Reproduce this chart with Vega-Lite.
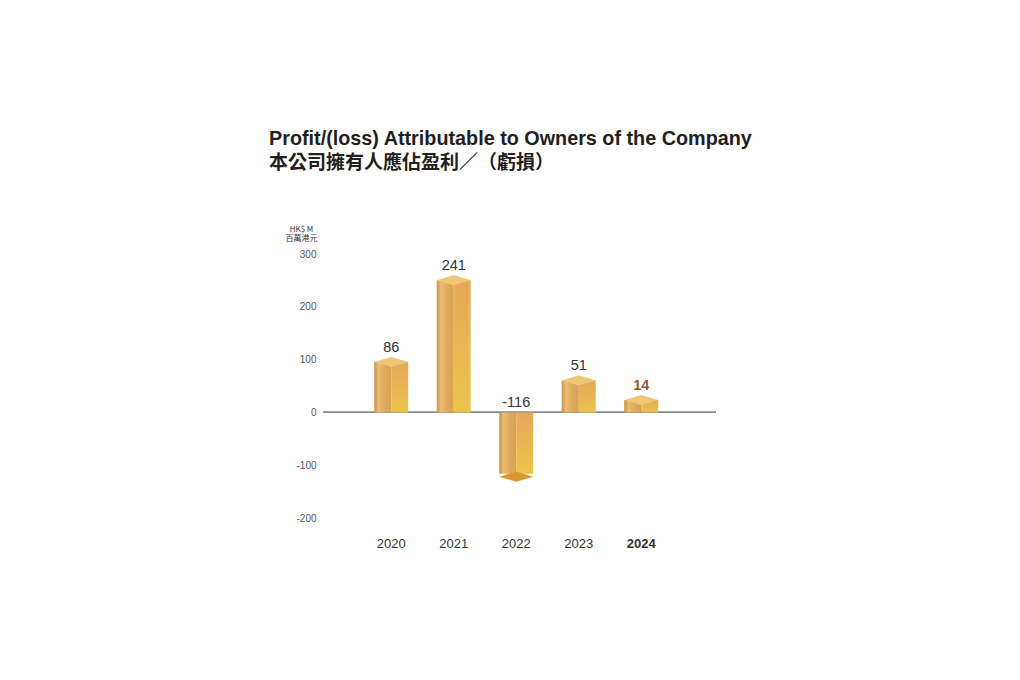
{
  "$schema": "https://vega.github.io/schema/vega-lite/v6.json",
  "width": 393,
  "height": 264,
  "autosize": "none",
  "padding": {"left": 323, "top": 254, "right": 304, "bottom": 162},
  "background": "white",
  "config": {"view": {"stroke": null}, "font": "Liberation Sans"},
  "title": {
    "text": "Profit/(loss) Attributable to Owners of the Company",
    "subtitle": "本公司擁有人應佔盈利／（虧損）",
    "anchor": "start",
    "frame": "group",
    "dx": -54,
    "offset": 52,
    "font": "Liberation Sans",
    "fontSize": 19.8,
    "fontWeight": "bold",
    "color": "#231f20",
    "subtitleFont": "Noto Sans CJK TC",
    "subtitleFontSize": 19,
    "subtitleFontWeight": "bold",
    "subtitleColor": "#231f20",
    "subtitlePadding": 5
  },
  "data": {
    "values": [
      {"year": "2020", "value": 86},
      {"year": "2021", "value": 241},
      {"year": "2022", "value": -116},
      {"year": "2023", "value": 51},
      {"year": "2024", "value": 14}
    ]
  },
  "encoding": {
    "x": {
      "field": "year",
      "type": "nominal",
      "sort": ["2020", "2021", "2022", "2023", "2024"],
      "scale": {"domain": ["2020", "2021", "2022", "2023", "2024"], "paddingInner": 0.456, "paddingOuter": 0.872, "align": 0.47},
      "axis": {
        "title": null,
        "domain": false,
        "ticks": false,
        "labelAngle": 0,
        "labelFontSize": 13,
        "labelColor": "#333333",
        "labelPadding": 19,
        "labelFontWeight": {"condition": {"test": "datum.value === '2024'", "value": "bold"}, "value": "normal"}
      }
    }
  },
  "layer": [
    {
      "mark": {"type": "rule", "color": "#8a8a8a", "strokeWidth": 1.2},
      "encoding": {
        "y": {
          "datum": 0,
          "type": "quantitative",
          "scale": {"domain": [-200, 300], "nice": false, "zero": false},
          "axis": {
            "values": [-200, -100, 0, 100, 200, 300],
            "labelExpr": "replace(datum.label, '−', '-')",
            "grid": false,
            "domain": false,
            "ticks": false,
            "labelFontSize": 10,
            "labelColor": "#555555",
            "labelPadding": 7,
            "title": ["HK$ M", "百萬港元"],
            "titleFont": "Noto Sans CJK TC",
            "titleFontSize": 8,
            "titleFontWeight": "normal",
            "titleColor": "#333333",
            "titleAngle": 0,
            "titleAlign": "center",
            "titleBaseline": "alphabetic",
            "titleX": -22,
            "titleY": -23,
            "titleLineHeight": 9.5
          }
        },
        "x": null
      }
    },
    {
      "transform": [{"filter": "datum.value > 0"}],
      "mark": {
        "type": "bar", "width": 17, "xOffset": -8.5, "yOffset": -5,
        "fill": {"gradient": "linear", "x1": 0, "x2": 1, "y1": 0, "y2": 0,
          "stops": [{"offset": 0, "color": "#c8924a"}, {"offset": 0.25, "color": "#ebbd72"}, {"offset": 0.6, "color": "#e0ab5e"}, {"offset": 1, "color": "#d8a052"}]}
      },
      "encoding": {"y": {"field": "value", "type": "quantitative"}, "y2": {"datum": 0}}
    },
    {
      "transform": [{"filter": "datum.value > 0"}],
      "mark": {
        "type": "bar", "width": 17, "xOffset": 8.5, "yOffset": -5,
        "fill": {"gradient": "linear", "x1": 0, "x2": 0, "y1": 0, "y2": 1,
          "stops": [{"offset": 0, "color": "#e6a85a"}, {"offset": 1, "color": "#ebc44c"}]}
      },
      "encoding": {"y": {"field": "value", "type": "quantitative"}, "y2": {"datum": 0}}
    },
    {
      "transform": [{"filter": "datum.value > 0"}],
      "mark": {"type": "point", "filled": true, "opacity": 1, "size": 1156, "yOffset": -5,
        "shape": "M-1,0L0,-0.3L1,0L0,0.3Z", "color": "#f1c677"},
      "encoding": {"y": {"field": "value", "type": "quantitative"}}
    },
    {
      "transform": [{"filter": "datum.value < 0"}],
      "mark": {
        "type": "bar", "width": 17, "xOffset": -8.5,
        "fill": {"gradient": "linear", "x1": 0, "x2": 1, "y1": 0, "y2": 0,
          "stops": [{"offset": 0, "color": "#c8924a"}, {"offset": 0.25, "color": "#ebbd72"}, {"offset": 0.6, "color": "#e0ab5e"}, {"offset": 1, "color": "#d8a052"}]}
      },
      "encoding": {"y": {"field": "value", "type": "quantitative"}, "y2": {"datum": 0}}
    },
    {
      "transform": [{"filter": "datum.value < 0"}],
      "mark": {
        "type": "bar", "width": 17, "xOffset": 8.5,
        "fill": {"gradient": "linear", "x1": 0, "x2": 0, "y1": 0, "y2": 1,
          "stops": [{"offset": 0, "color": "#e6a85a"}, {"offset": 1, "color": "#ebc44c"}]}
      },
      "encoding": {"y": {"field": "value", "type": "quantitative"}, "y2": {"datum": 0}}
    },
    {
      "transform": [{"filter": "datum.value < 0"}],
      "mark": {"type": "point", "filled": true, "opacity": 1, "size": 1156, "yOffset": 3,
        "shape": "M-1,0L0,-0.3L1,0L0,0.3Z", "color": "#d8982f"},
      "encoding": {"y": {"field": "value", "type": "quantitative"}}
    },
    {
      "transform": [{"filter": "datum.value > 0 && datum.year !== '2024'"}],
      "mark": {"type": "text", "baseline": "alphabetic", "dy": -15, "fontSize": 14.5, "color": "#333333"},
      "encoding": {
        "y": {"field": "value", "type": "quantitative"},
        "text": {"field": "value", "type": "nominal"}
      }
    },
    {
      "transform": [{"filter": "datum.year === '2024'"}],
      "mark": {"type": "text", "baseline": "alphabetic", "dy": -15, "fontSize": 14.5, "fontWeight": "bold", "color": "#8b5a2b"},
      "encoding": {
        "y": {"field": "value", "type": "quantitative"},
        "text": {"field": "value", "type": "nominal"}
      }
    },
    {
      "transform": [{"filter": "datum.value < 0"}],
      "mark": {"type": "text", "baseline": "alphabetic", "dy": -5, "fontSize": 14.5, "color": "#333333"},
      "encoding": {
        "y": {"datum": 0, "type": "quantitative"},
        "text": {"field": "value", "type": "nominal"}
      }
    }
  ]
}
